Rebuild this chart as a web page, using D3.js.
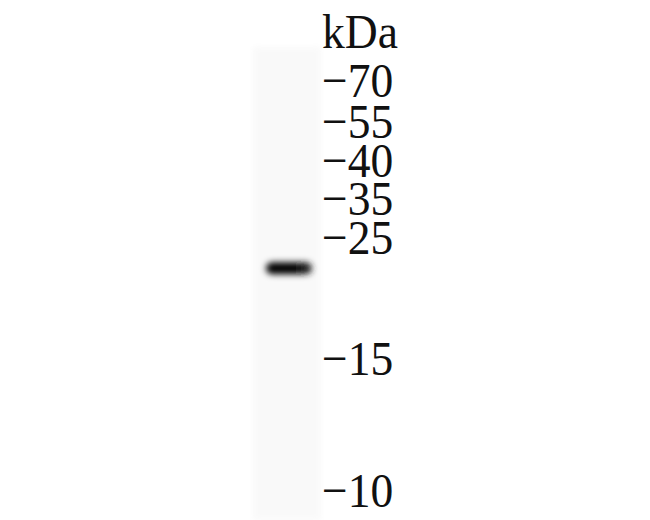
<!DOCTYPE html>
<html><head><meta charset="utf-8">
<script src="https://cdn.jsdelivr.net/npm/d3@7"></script>
<style>html,body{margin:0;padding:0;background:#fff;}svg{display:block;}</style>
</head><body>
<script>
// Data
const markerLabels = ["70","55","40","35","25","15","10"];
const markerValues = [70,55,40,35,25,15,10];
const lanes = ["Lane 1"];
const bandLanes = ["Lane 1"];
const bandMW = [22.0];
const bandIntensity = [1.0];
const unitLabel = "kDa";

const W = 650, H = 520;
const svg = d3.select("body").append("svg").attr("width", W).attr("height", H);

// Piecewise log scale mapping molecular weight to vertical position (marker ladder)
const y = d3.scaleLog().domain(markerValues).range([81,122,161,199,238,359,491]);
const x = d3.scaleBand().domain(lanes).range([253, 321]).padding(0);

const defs = svg.append("defs");
const blur = defs.append("filter").attr("id","blur").attr("x","-50%").attr("y","-150%").attr("width","200%").attr("height","400%");
blur.append("feGaussianBlur").attr("stdDeviation","3.4 3.2");
const laneBlur = defs.append("filter").attr("id","laneBlur").attr("x","-20%").attr("y","-5%").attr("width","140%").attr("height","110%");
laneBlur.append("feGaussianBlur").attr("stdDeviation","3");

const bandGrad = defs.append("linearGradient").attr("id","bandGrad").attr("x1","0").attr("x2","1");
bandGrad.append("stop").attr("offset","0").attr("stop-color","#000");
bandGrad.append("stop").attr("offset","0.6").attr("stop-color","#000");
bandGrad.append("stop").attr("offset","1").attr("stop-color","#2a2a2a");

// Lane background
svg.append("g").selectAll("rect").data(lanes).join("rect")
  .attr("x", d => x(d)).attr("y", 47)
  .attr("width", x.bandwidth()).attr("height", H - 47)
  .attr("fill", "#f9f9f9").attr("filter","url(#laneBlur)");

// Bands
svg.append("g").selectAll("rect").data(bandLanes.map((l,i)=>({lane:l, mw:bandMW[i], v:bandIntensity[i]}))).join("rect")
  .attr("x", d => x(d.lane) + 13)
  .attr("y", d => y(d.mw) - 6)
  .attr("width", x.bandwidth() - 22)
  .attr("height", 12)
  .attr("rx", 6)
  .attr("fill", "url(#bandGrad)")
  .attr("opacity", d => d.v)
  .attr("filter", "url(#blur)");

// Marker labels (narrow, tall serif like the reference)
const font = "'Liberation Serif','Times New Roman',serif";
const sx = 1.34, sy = 1.45, fs = 34;
svg.append("text")
  .attr("transform", `translate(322,48) scale(${sx},${sy})`)
  .attr("font-family", font).attr("font-size", fs).attr("fill","#111")
  .text(unitLabel);
svg.append("g").selectAll("text").data(markerValues).join("text")
  .attr("transform", d => `translate(322,${y(d) + 16}) scale(${sx},${sy})`)
  .attr("font-family", font).attr("font-size", fs).attr("fill","#111")
  .text((d,i) => "\u2212" + markerLabels[i]);
</script>
</body></html>
